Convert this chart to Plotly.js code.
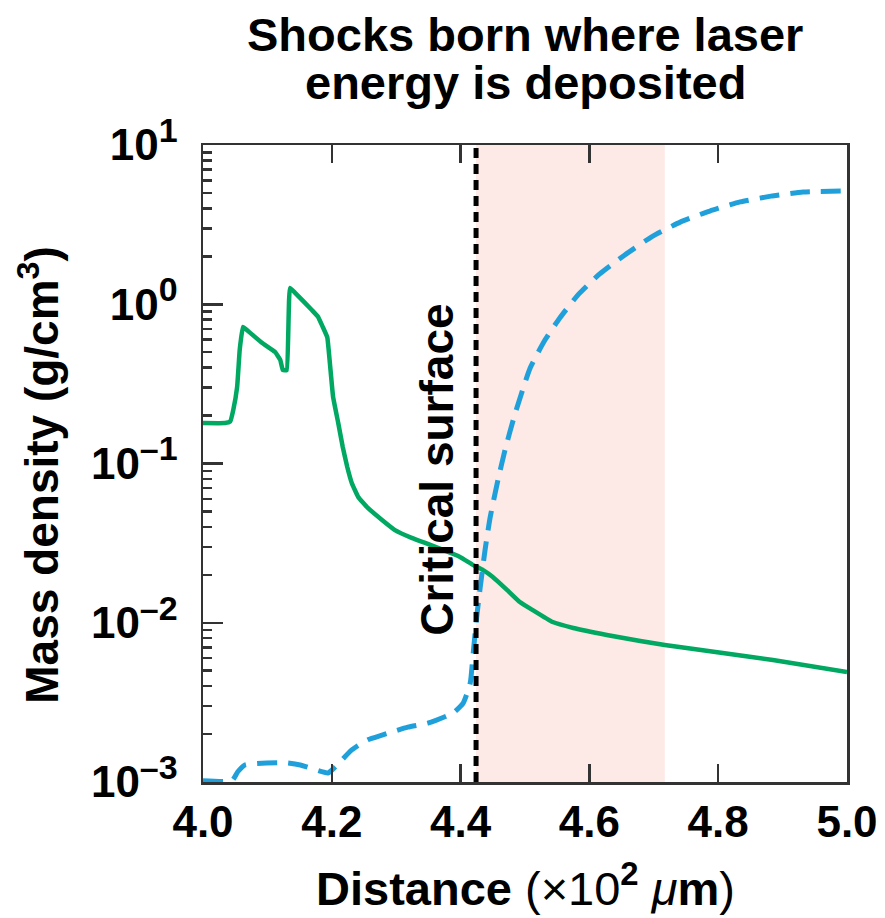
<!DOCTYPE html>
<html>
<head>
<meta charset="utf-8">
<script src="https://cdn.plot.ly/plotly-3.0.1.min.js"></script>
<style>html,body{margin:0;padding:0;background:#fff;}#chart{width:885px;height:918px;}</style>
</head>
<body>
<div id="chart"></div>
<script>
// Distance (x10^2 um) and mass density (g/cm^3)
const solidX = [4.000, 4.034, 4.042, 4.047, 4.053, 4.057, 4.062, 4.068, 4.092, 4.112, 4.120, 4.124, 4.130, 4.135, 4.143, 4.169, 4.179, 4.186, 4.193, 4.197, 4.202, 4.210, 4.217, 4.224, 4.231, 4.241, 4.256, 4.278, 4.298, 4.325, 4.345, 4.399, 4.419, 4.435, 4.450, 4.472, 4.492, 4.512, 4.543, 4.575, 4.627, 4.679, 4.717, 4.807, 4.885, 5.000];
const solidY = [0.1795, 0.1795, 0.183, 0.217, 0.302, 0.517, 0.72, 0.689, 0.571, 0.501, 0.447, 0.386, 0.386, 1.265, 1.18, 0.92, 0.83, 0.72, 0.62, 0.428, 0.262, 0.1795, 0.127, 0.095, 0.0755, 0.0617, 0.0526, 0.0442, 0.0382, 0.034, 0.0317, 0.0259, 0.0231, 0.0214, 0.0194, 0.0161, 0.0135, 0.0120, 0.0101, 0.00927, 0.00838, 0.00768, 0.00725, 0.00645, 0.00583, 0.00491];

const dashedX = [4.000, 4.045, 4.054, 4.065, 4.127, 4.151, 4.194, 4.205, 4.231, 4.256, 4.278, 4.318, 4.349, 4.388, 4.404, 4.415, 4.419, 4.425, 4.430, 4.438, 4.446, 4.458, 4.469, 4.484, 4.508, 4.531, 4.554, 4.582, 4.616, 4.655, 4.696, 4.741, 4.787, 4.834, 4.884, 4.932, 5.000];
const dashedY = [0.00102, 0.00102, 0.00116, 0.00128, 0.00132, 0.00128, 0.00114, 0.00124, 0.00159, 0.00184, 0.00197, 0.00221, 0.00234, 0.00271, 0.00313, 0.00419, 0.0061, 0.01087, 0.0161, 0.0287, 0.0461, 0.0788, 0.1216, 0.202, 0.398, 0.596, 0.82, 1.14, 1.55, 2.04, 2.64, 3.28, 3.85, 4.39, 4.79, 5.07, 5.14];

const criticalSurface = 4.424;
const depositionRegion = [4.424, 4.717];

const xTickVals = [4.0, 4.2, 4.4, 4.6, 4.8, 5.0];
const xTickText = ['4.0', '4.2', '4.4', '4.6', '4.8', '5.0'];
const yTickVals = [1e-3, 1e-2, 1e-1, 1, 10];
const yExponents = ['–3', '–2', '–1', '0', '1'];

const titleLines = ['Shocks born where laser', 'energy is deposited'];
const yTitle = '<b>Mass density (g/cm<sup>3</sup>)</b>';
const xTitle = '<b>Distance</b> (×10<sup><b>2</b></sup> <i>μ</i><b>m</b>)';
const criticalLabel = 'Critical surface';

const yTickText = yExponents.map(e => '10<sup><span style="font-size:34px">' + e + '</span></sup>');

const minorVals = [];
[1e-3, 1e-2, 1e-1, 1].forEach(d => { for (let k = 2; k <= 9; k++) minorVals.push(d * k); });

const FONT = 'Liberation Sans, Arial, sans-serif';
const AX = '#333333';

const traces = [
  {x: solidX, y: solidY, type: 'scatter', mode: 'lines', line: {color: '#00a862', width: 4.5, shape: 'spline', smoothing: 0.3}, hoverinfo: 'skip'},
  {x: dashedX, y: dashedY, type: 'scatter', mode: 'lines', line: {color: '#1fa0db', width: 5, dash: '20px,11px', shape: 'spline', smoothing: 0.5}, hoverinfo: 'skip'}
];

const layout = {
  width: 885, height: 918,
  margin: {l: 203, r: 38, t: 145, b: 136},
  paper_bgcolor: '#fff', plot_bgcolor: 'rgba(0,0,0,0)',
  showlegend: false,
  font: {family: FONT, color: '#000'},
  xaxis: {
    range: [4.0, 5.0],
    tickmode: 'array', tickvals: xTickVals, ticktext: xTickText,
    ticks: 'inside', ticklen: 18, tickwidth: 2.5, tickcolor: AX,
    showline: true, linecolor: AX, linewidth: 2.5, mirror: 'ticks',
    showgrid: false, zeroline: false,
    tickfont: {size: 44, family: FONT, color: '#000', weight: 'bold'}
  },
  yaxis: {
    type: 'log', range: [-3, 1],
    tickmode: 'array', tickvals: yTickVals, ticktext: yTickText,
    ticks: 'inside', ticklen: 20, tickwidth: 2.5, tickcolor: AX,
    minor: {tickmode: 'array', tickvals: minorVals, ticks: 'inside', ticklen: 9, tickwidth: 2.5, tickcolor: AX},
    showline: true, linecolor: AX, linewidth: 2.5, mirror: true,
    showgrid: false, zeroline: false, ticklabelstandoff: 14,
    tickfont: {size: 44, family: FONT, color: '#000', weight: 'bold'}
  },
  yaxis2: {
    type: 'log', range: [-3, 1], overlaying: 'y', side: 'right',
    tickmode: 'array', tickvals: yTickVals, ticktext: ['', '', '', '', ''],
    ticks: 'inside', ticklen: 18, tickwidth: 2.5, tickcolor: AX,
    showline: false, showgrid: false, zeroline: false, showticklabels: false
  },
  shapes: [
    {type: 'rect', xref: 'x', yref: 'paper', x0: depositionRegion[0], x1: depositionRegion[1], y0: 0, y1: 1,
     fillcolor: '#fde9e6', line: {width: 0}, layer: 'below'},
    {type: 'line', xref: 'x', yref: 'paper', x0: criticalSurface, x1: criticalSurface, y0: 0, y1: 1,
     line: {color: '#000', width: 5, dash: '10px,6px'}}
  ],
  annotations: [
    {text: '<b>' + titleLines[0] + '</b>', xref: 'paper', yref: 'paper', x: 0.5, y: 1.173,
     showarrow: false, xanchor: 'center', yanchor: 'middle', font: {size: 47, family: FONT, color: '#000'}},
    {text: '<b>' + titleLines[1] + '</b>', xref: 'paper', yref: 'paper', x: 0.5, y: 1.098,
     showarrow: false, xanchor: 'center', yanchor: 'middle', font: {size: 47, family: FONT, color: '#000'}},
    {text: yTitle, xref: 'paper', yref: 'paper', x: -0.255, y: 0.482, textangle: -90,
     showarrow: false, xanchor: 'center', yanchor: 'middle', font: {size: 46, family: FONT, color: '#000'}},
    {text: xTitle, xref: 'paper', yref: 'paper', x: 0.5, y: -0.162,
     showarrow: false, xanchor: 'center', yanchor: 'middle', font: {size: 47, family: FONT, color: '#000'}},
    {text: '<b>' + criticalLabel + '</b>', xref: 'x', yref: 'y', x: 4.363, y: -1.041,
     textangle: -90, showarrow: false, xanchor: 'center', yanchor: 'middle',
     font: {size: 46, family: FONT, color: '#000'}}
  ]
};

Plotly.newPlot('chart', traces, layout, {displayModeBar: false, staticPlot: true});
</script>
</body>
</html>
